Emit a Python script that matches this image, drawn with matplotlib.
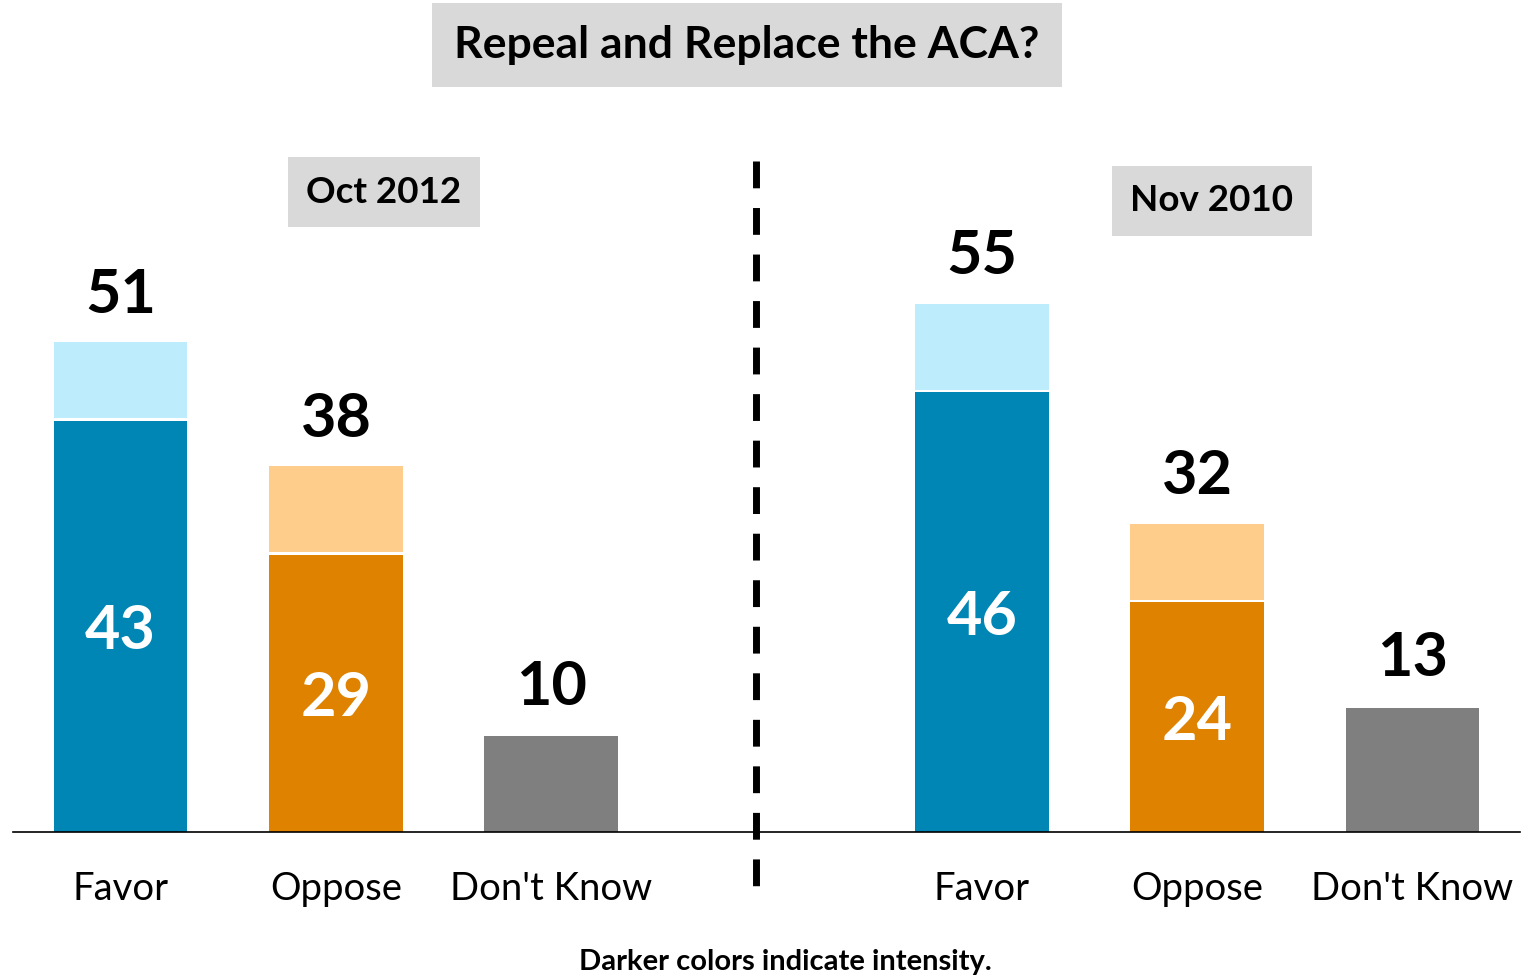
import matplotlib
matplotlib.use("Agg")
import matplotlib.pyplot as plt
from matplotlib.lines import Line2D

plt.rcParams['font.family'] = ['Lato', 'DejaVu Sans']

categories = ['Favor', 'Oppose', "Don't Know"]
periods = ['Oct 2012', 'Nov 2010']
totals = {'Oct 2012': [51, 38, 10], 'Nov 2010': [55, 32, 13]}
strong = {'Oct 2012': [43, 29, None], 'Nov 2010': [46, 24, None]}

DARK = ['#0086b5', '#de8200', '#7f7f7f']
LIGHT = ['#bdecfd', '#fecd8b', '#7f7f7f']
BOX_GRAY = '#d9d9d9'

fig = plt.figure(figsize=(15.24, 9.77), dpi=100)
ax = fig.add_axes([13 / 1524, 145 / 977, 1507 / 1524, 832 / 977])

width = 0.62
for p, period in enumerate(periods):
    for i, cat in enumerate(categories):
        x = p * 4 + i
        tot = totals[period][i]
        s = strong[period][i]
        if s is None:
            ax.bar(x, tot, width, color=DARK[i], edgecolor='none')
        else:
            ax.bar(x, s, width, color=DARK[i], edgecolor='none')
            ax.bar(x, tot - s, width, bottom=s + 0.25, color=LIGHT[i],
                   edgecolor='none')
            ax.text(x, s / 2 - 0.5, str(s), ha='center', va='center',
                    color='white', fontsize=44, fontweight='bold')
        ax.text(x, tot + 5.2, str(tot), ha='center', va='center', color='black',
                fontsize=44, fontweight='bold')
        ax.text(x, -6.0, cat, ha='center', va='center', fontsize=27.5)

ax.set_xlim(-0.5, 6.5)
ax.set_ylim(0, 87)
for side in ['top', 'right', 'left']:
    ax.spines[side].set_visible(False)
ax.spines['bottom'].set_linewidth(1.2)
ax.set_xticks([])
ax.set_yticks([])

# divider between the two surveys
ax.add_line(Line2D([2.95, 2.95], [70.2, -5.8], color='black', lw=5,
                   linestyle=(0, (3.86, 2.84)), clip_on=False))

fig.text(747 / 1524, 1 - 45 / 977, 'Repeal and Replace the ACA?', ha='center',
         va='center', fontsize=32, fontweight='bold',
         bbox=dict(boxstyle='square,pad=0.5', facecolor=BOX_GRAY,
                   edgecolor='none'))
box = dict(boxstyle='square,pad=0.5', facecolor=BOX_GRAY, edgecolor='none')
ax.text(1.223, 66.9, periods[0], ha='center', va='center', fontsize=26.5,
        fontweight='bold', bbox=box)
ax.text(5.069, 66.0, periods[1], ha='center', va='center', fontsize=26.5,
        fontweight='bold', bbox=box)
fig.text(785 / 1524, 1 - 962 / 977, 'Darker colors indicate intensity.',
         ha='center', va='center', fontsize=21, fontweight='bold')

fig.savefig('out.png', dpi=100)
